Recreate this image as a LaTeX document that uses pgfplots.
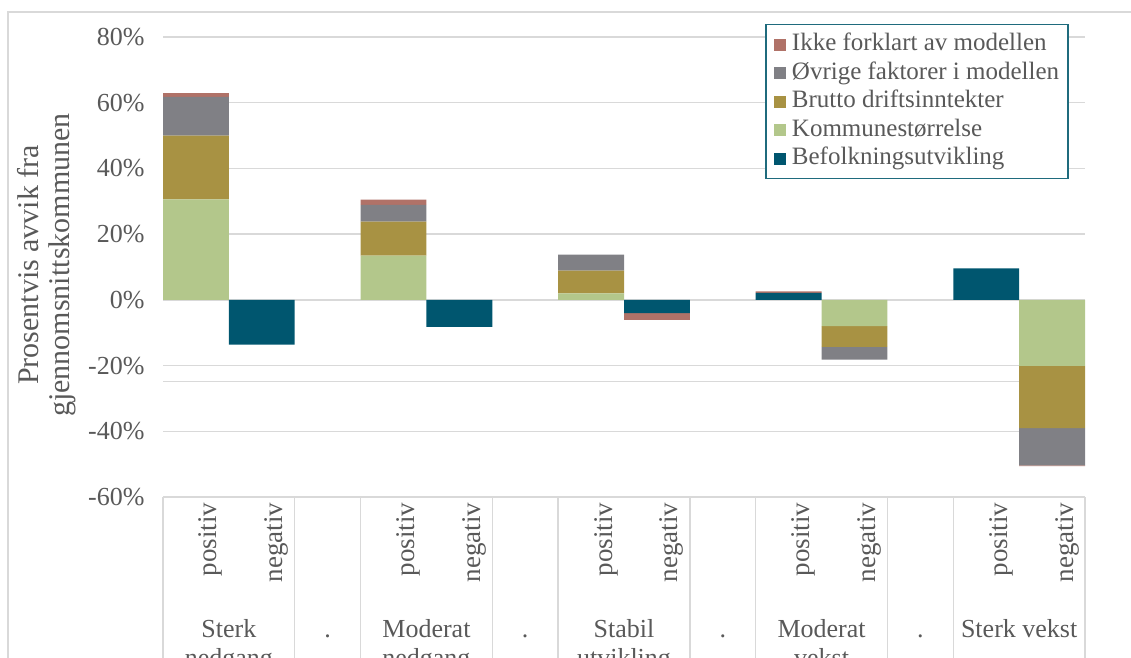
\documentclass[border=0pt]{standalone}
\usepackage{pgfplots}
\pgfplotsset{compat=1.18}
\usepackage{pgfplotstable}
\usepackage{fontspec}
\setmainfont{Liberation Serif}
\definecolor{cBef}{HTML}{00566F}
\definecolor{cKom}{HTML}{B3C78B}
\definecolor{cBru}{HTML}{A89243}
\definecolor{cOvr}{HTML}{808085}
\definecolor{cIkk}{HTML}{B07268}
\definecolor{gridc}{HTML}{D9D9D9}
\definecolor{txt}{HTML}{595959}
\definecolor{legc}{HTML}{1F6B7D}
\newcommand{\bigf}{\fontsize{26}{30}\selectfont}
\newcommand{\legf}{\fontsize{25}{30}\selectfont}
\newcommand{\rotf}{\fontsize{27}{30}\selectfont}
\newcommand{\labf}{\fontsize{30}{31}\selectfont}
\pgfplotstableread{
x bef kom bru ovr ikk
0 0 30.6 19.4 11.8 1.1
1 -13.6 0 0 0 0
2 0 0 0 0 0
3 0 13.5 10.3 5.1 1.6
4 -8.2 0 0 0 0
5 0 0 0 0 0
6 0 2.0 6.9 4.85 0
7 -4.0 0 0 0 -2.1
8 0 0 0 0 0
9 2.1 0 0 0 0.5
10 0 -8.0 -6.3 -3.9 0
11 0 0 0 0 0
12 9.6 0 0 0 0
13 0 -20.1 -18.9 -11.4 -0.2
}\datatable
\begin{document}
\begin{tikzpicture}[x=1pt,y=1pt]
\draw[gridc, line width=1.5pt] (8,-12) rectangle (1200,-720);
\begin{axis}[
  at={(163pt,-497pt)}, anchor=south west,
  width=922pt, height=460pt, scale only axis,
  xmin=-0.5, xmax=13.5, ymin=-60, ymax=80,
  ybar stacked, bar width=1,
  axis line style={draw=none},
  ymajorgrids, grid style={gridc, line width=1.5pt},
  ytick={-60,-40,-20,0,20,40,60,80},
  yticklabels={-60\%,-40\%,-20\%,0\%,20\%,40\%,60\%,80\%},
  xtick={0,1,3,4,6,7,9,10,12,13},
  xticklabels={positiv,negativ,positiv,negativ,positiv,negativ,positiv,negativ,positiv,negativ},
  major tick length=0pt,
  ticklabel style={text=txt},
  yticklabel style={font=\bigf, xshift=-15pt},
  xticklabel style={font=\rotf, rotate=90, anchor=east, yshift=-15pt, xshift=-2pt},
  clip=false,
  reverse legend,
  legend image code/.code={\fill[#1, draw=none] (0pt,-6pt) rectangle (12pt,6pt); \path (17pt,0pt);},
  legend style={at={(0.9826,1.0283)}, anchor=north east, draw=legc, line width=1.5pt,
    fill=white, font=\legf, text=txt, inner sep=8pt, row sep=4.5pt,
    nodes={inner sep=1pt, text height=17pt, text depth=5pt, anchor=west}},
  legend cell align=left,
]
\addplot[fill=cBef, draw=none] table[x=x, y=bef] {\datatable};
\addlegendentry{Befolkningsutvikling}
\addplot[fill=cKom, draw=none] table[x=x, y=kom] {\datatable};
\addlegendentry{Kommunestørrelse}
\addplot[fill=cBru, draw=none] table[x=x, y=bru] {\datatable};
\addlegendentry{Brutto driftsinntekter}
\addplot[fill=cOvr, draw=none] table[x=x, y=ovr] {\datatable};
\addlegendentry{Øvrige faktorer i modellen}
\addplot[fill=cIkk, draw=none] table[x=x, y=ikk] {\datatable};
\addlegendentry{Ikke forklart av modellen}
\draw[gridc, line width=1.5pt] (axis cs:-0.5,-24.8) -- (axis cs:13.5,-24.8);
\pgfplotsinvokeforeach{-0.5,1.5,2.5,4.5,5.5,7.5,8.5,10.5,11.5,13.5}{
  \draw[gridc, line width=1.5pt] (axis cs:#1,-60) -- ++(0pt,-250pt);
}
\node[font=\bigf, text=txt, anchor=base, yshift=-140pt] at (axis cs:0.5,-60) {Sterk};
\node[font=\bigf, text=txt, anchor=base, yshift=-169pt] at (axis cs:0.5,-60) {nedgang};
\node[font=\bigf, text=txt, anchor=base, yshift=-140pt] at (axis cs:3.5,-60) {Moderat};
\node[font=\bigf, text=txt, anchor=base, yshift=-169pt] at (axis cs:3.5,-60) {nedgang};
\node[font=\bigf, text=txt, anchor=base, yshift=-140pt] at (axis cs:6.5,-60) {Stabil};
\node[font=\bigf, text=txt, anchor=base, yshift=-169pt] at (axis cs:6.5,-60) {utvikling};
\node[font=\bigf, text=txt, anchor=base, yshift=-140pt] at (axis cs:9.5,-60) {Moderat};
\node[font=\bigf, text=txt, anchor=base, yshift=-169pt] at (axis cs:9.5,-60) {vekst};
\node[font=\bigf, text=txt, anchor=base, yshift=-140pt] at (axis cs:12.5,-60) {Sterk vekst};
\pgfplotsinvokeforeach{2,5,8,11}{
  \node[font=\bigf, text=txt, anchor=base, yshift=-140pt] at (axis cs:#1,-60) {.};
}
\end{axis}
\node[rotate=90, align=center, text=txt, font=\labf] at (47,-265) {Prosentvis avvik fra\\gjennomsnittskommunen};
\pgfresetboundingbox
\useasboundingbox (0,0) rectangle (1131,-657);
\end{tikzpicture}
\end{document}
